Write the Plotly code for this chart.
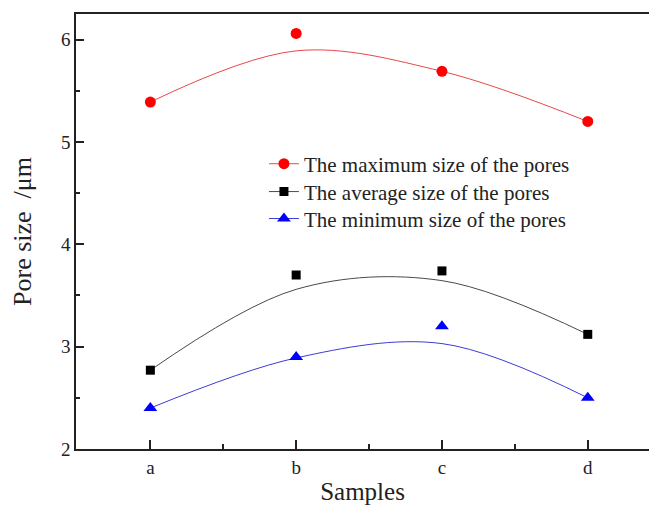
import plotly.graph_objects as go

samples = ["a", "b", "c", "d"]
xpos = [0, 1, 2, 3]

max_size = [5.39, 6.06, 5.69, 5.20]
avg_size = [2.77, 3.70, 3.74, 3.12]
min_size = [2.40, 2.90, 3.20, 2.50]

# smoothed fit-curve values at each sample
max_fit = [5.39, 5.89, 5.69, 5.20]
avg_fit = [2.77, 3.56, 3.645, 3.12]
min_fit = [2.40, 2.89, 3.03, 2.50]

names = ["The maximum size of the pores",
         "The average size of the pores",
         "The minimum size of the pores"]
series = [max_size, avg_size, min_size]
fits = [max_fit, avg_fit, min_fit]
mcolors = ["#ff0000", "#000000", "#0000ff"]
lcolors = ["#e8474a", "#4a4a4a", "#3c3cd8"]
symbols = ["circle", "square", "triangle-up"]
msizes = [11, 9, 12]
legend_ids = ["legend", "legend2", "legend3"]
legend_y = [0.655, 0.591, 0.529]

FF = "Liberation Serif, Times New Roman, serif"

fig = go.Figure()
for name, ys, fy, mc, lc, sym, ms, lid in zip(names, series, fits, mcolors, lcolors, symbols, msizes, legend_ids):
    fig.add_trace(go.Scatter(x=xpos, y=fy, mode="lines", showlegend=False,
                             line=dict(color=lc, width=1, shape="spline", smoothing=1.0),
                             hoverinfo="skip"))
    fig.add_trace(go.Scatter(x=xpos, y=ys, mode="markers", showlegend=False,
                             marker=dict(color=mc, symbol=sym, size=ms, line=dict(width=0))))
    fig.add_trace(go.Scatter(x=[None], y=[None], mode="lines+markers", name=name, legend=lid,
                             line=dict(color=lc, width=1),
                             marker=dict(color=mc, symbol=sym, size=ms, line=dict(width=0))))

legend_common = dict(x=0.328, xanchor="left", yanchor="middle",
                     bgcolor="rgba(0,0,0,0)", font=dict(size=21, family=FF, color="#222222"),
                     itemwidth=30)

fig.update_layout(
    width=649, height=508,
    margin=dict(l=76, r=0, t=14, b=59),
    paper_bgcolor="white", plot_bgcolor="white",
    font=dict(family=FF, color="#222222"),
    legend=dict(y=legend_y[0], **legend_common),
    legend2=dict(y=legend_y[1], **legend_common),
    legend3=dict(y=legend_y[2], **legend_common),
    xaxis=dict(range=[-0.51, 3.42], tickmode="array", tickvals=xpos, ticktext=samples,
               showgrid=False, zeroline=False, showline=True, linecolor="#222222", linewidth=1.5,
               mirror=True, ticks="inside", ticklen=9, tickwidth=1.5, tickcolor="#222222",
               tickfont=dict(size=19, family=FF, color="#222222"),
               minor=dict(tickvals=[0.5, 1.5, 2.5], ticks="inside", ticklen=5, tickwidth=1.5,
                          tickcolor="#222222"),
               title=dict(text="Samples", font=dict(size=25, family=FF, color="#222222"), standoff=6)),
    yaxis=dict(range=[2, 6.25], tickmode="array", tickvals=[2, 3, 4, 5, 6],
               showgrid=False, zeroline=False, showline=True, linecolor="#222222", linewidth=1.5,
               mirror=False, ticks="inside", ticklen=8, tickwidth=1.5, tickcolor="#222222",
               tickfont=dict(size=19, family=FF, color="#222222"),
               minor=dict(tickvals=[2.5, 3.5, 4.5, 5.5], ticks="inside", ticklen=4, tickwidth=1.5,
                          tickcolor="#222222"),
               title=dict(text="Pore size\u00a0\u00a0/\u03bcm", font=dict(size=26, family=FF, color="#222222"),
                          standoff=22)),
)

fig.write_html("out.html")
